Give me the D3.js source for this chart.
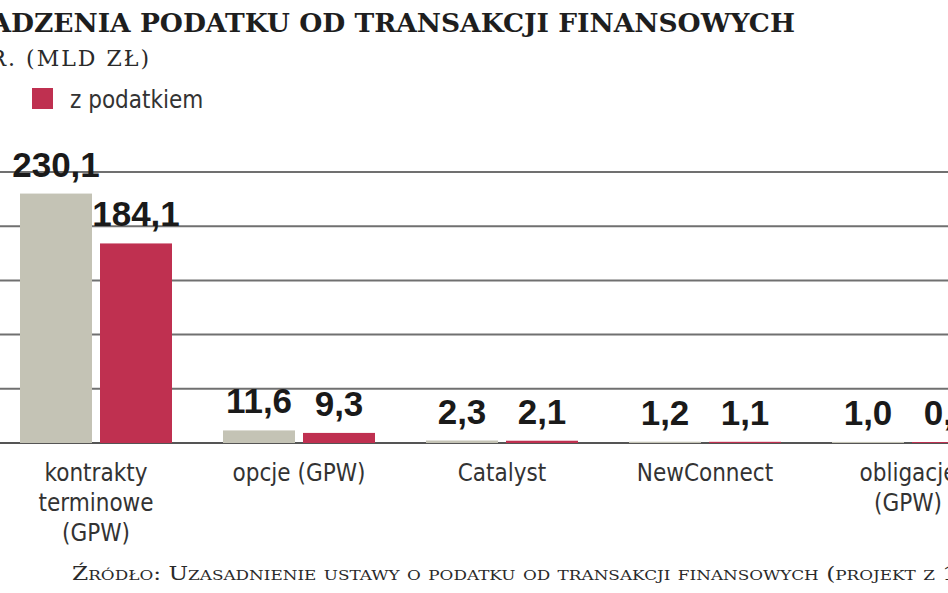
<!DOCTYPE html>
<html>
<head>
<meta charset="utf-8">
<script src="https://cdn.jsdelivr.net/npm/d3@7"></script>
<style>
  html, body { margin: 0; padding: 0; background: #ffffff; }
  svg { display: block; }
</style>
</head>
<body>
<div id="chart"></div>
<script>
// Turnover on Polish markets with and without the financial transaction tax (bn PLN)
const categories = ["kontrakty terminowe (GPW)", "opcje (GPW)", "Catalyst", "NewConnect", "obligacje (GPW)"];
const categoryLines = [["kontrakty", "terminowe", "(GPW)"], ["opcje (GPW)"], ["Catalyst"], ["NewConnect"], ["obligacje", "(GPW)"]];
const series = ["bez podatku", "z podatkiem"];
const withoutTax = [230.1, 11.6, 2.3, 1.2, 1.0];
const withTax = [184.1, 9.3, 2.1, 1.1, 0.9];
const gridTicks = [0, 50, 100, 150, 200, 250];
const titleText = "WPROWADZENIA PODATKU OD TRANSAKCJI FINANSOWYCH";
const subtitleText = "W 2013 R. (MLD ZŁ)";
const sourceText = "Źródło: Uzasadnienie ustawy o podatku od transakcji finansowych (projekt z 15";

const W = 948, H = 593;
const colors = { "bez podatku": "#c4c3b5", "z podatkiem": "#bf3050" };
const fmt = v => d3.format(".1f")(v).replace(".", ",");
const sansCond = "'DejaVu Sans Condensed', 'DejaVu Sans', sans-serif";

const svg = d3.select("#chart").append("svg")
  .attr("width", W).attr("height", H)
  .attr("viewBox", `0 0 ${W} ${H}`);

// Scales
const y = d3.scaleLinear().domain([0, 250]).range([443, 172]);
const x0 = d3.scaleBand().domain(categories).range([20, 984]).paddingInner(51 / 203).paddingOuter(0);
const x1 = d3.scaleBand().domain(series).range([0, x0.bandwidth()]).paddingInner(0.1).paddingOuter(0);

// Title block
svg.append("text")
  .attr("x", 795).attr("y", 32)
  .attr("text-anchor", "end")
  .attr("font-family", "'DejaVu Serif', serif")
  .attr("font-weight", "bold")
  .attr("font-size", 26.5)
  .attr("fill", "#1e1e1e")
  .text(titleText);

svg.append("text")
  .attr("x", 151).attr("y", 66)
  .attr("text-anchor", "end")
  .attr("font-family", "'DejaVu Serif', serif")
  .attr("font-size", 22)
  .attr("letter-spacing", 2)
  .attr("fill", "#2a2a2a")
  .text(subtitleText);

// Legend
const legend = svg.append("g").attr("transform", "translate(32,88)");
legend.append("rect").attr("width", 21).attr("height", 21).attr("fill", colors["z podatkiem"]);
legend.append("text")
  .attr("x", 38).attr("y", 20)
  .attr("font-family", sansCond)
  .attr("font-size", 24)
  .attr("fill", "#333")
  .text("z podatkiem");

// Gridlines
svg.append("g").selectAll("line")
  .data(gridTicks)
  .join("line")
  .attr("x1", 0).attr("x2", W)
  .attr("y1", d => y(d)).attr("y2", d => y(d))
  .attr("stroke", d => d === 0 ? "#555" : "#707070")
  .attr("stroke-width", 2);

// Bars
const rows = categories.map((c, i) => ({
  cat: c,
  vals: [
    { s: series[0], v: withoutTax[i] },
    { s: series[1], v: withTax[i] }
  ]
}));

const groups = svg.append("g").selectAll("g")
  .data(rows)
  .join("g")
  .attr("transform", d => `translate(${x0(d.cat)},0)`);

groups.selectAll("rect")
  .data(d => d.vals)
  .join("rect")
  .attr("x", d => x1(d.s))
  .attr("width", x1.bandwidth())
  .attr("y", d => y(d.v))
  .attr("height", d => y(0) - y(d.v))
  .attr("fill", d => colors[d.s]);

groups.selectAll("text.val")
  .data(d => d.vals)
  .join("text")
  .attr("class", "val")
  .attr("x", d => x1(d.s) + x1.bandwidth() / 2)
  .attr("y", d => y(d.v) - 17)
  .attr("text-anchor", "middle")
  .attr("font-family", "'Liberation Sans', Arial, sans-serif")
  .attr("font-weight", "bold")
  .attr("font-size", 35)
  .attr("fill", "#1a1a1a")
  .text(d => fmt(d.v));

// Category labels
groups.append("text")
  .attr("text-anchor", "middle")
  .attr("font-family", sansCond)
  .attr("font-size", 24)
  .attr("fill", "#333")
  .selectAll("tspan")
  .data((d, i) => categoryLines[i])
  .join("tspan")
  .attr("x", x0.bandwidth() / 2)
  .attr("y", (d, i) => 481 + i * 30)
  .text(d => d);

// Source line
svg.append("text")
  .attr("x", 72).attr("y", 580)
  .attr("font-family", "'DejaVu Serif', serif")
  .attr("font-size", 18)
  .style("font-variant", "small-caps")
  .attr("fill", "#2a2a2a")
  .attr("textLength", 900)
  .attr("lengthAdjust", "spacingAndGlyphs")
  .text(sourceText);
</script>
</body>
</html>
